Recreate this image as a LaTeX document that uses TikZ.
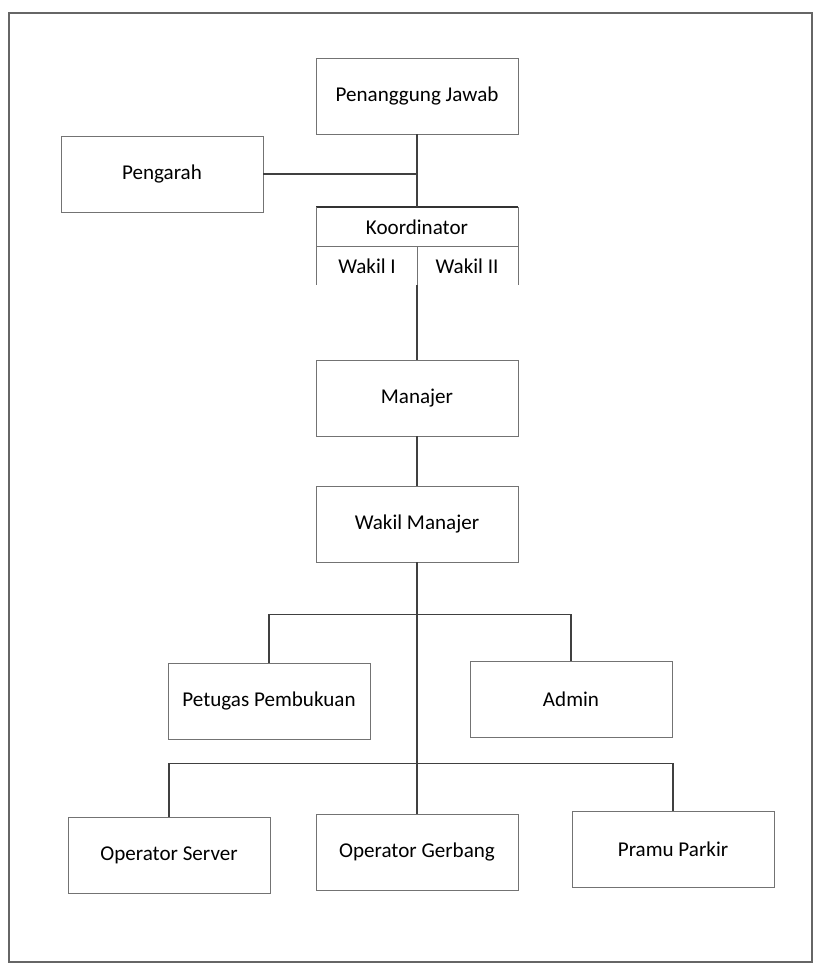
\documentclass[tikz,border=0pt]{standalone}
\usepackage{fontspec}
\setmainfont{Carlito}
\usetikzlibrary{positioning}

\tikzset{
	unitbox/.style={draw=black!55, line width=0.5pt, minimum width=4.04cm, minimum height=1.52cm, inner sep=0pt, font=\fontsize{12}{14}\selectfont},
	plain/.style={inner sep=0pt, font=\fontsize{12}{14}\selectfont},
	link/.style={line width=0.6pt, color=black!75}
}

\begin{document}
\begin{tikzpicture}[x=0.02cm, y=-0.02cm]
		%%%%% START %%%%%
		\useasboundingbox (0, 0) rectangle (815, 966);
		\draw[line width=0.6pt, color=black!60] (9, 13) rectangle (812, 962);
		
		\node[unitbox] (pj) at (417, 96) {Penanggung Jawab};
		\node[unitbox] (pengarah) at (162, 174) {Pengarah};
		
		%%%%% koordinator %%%%%
		\coordinate (koordtop) at (417, 207);
		\coordinate (koordbottom) at (417, 285);
		\draw[line width=0.6pt, color=black!80] (316, 207) -- (518, 207);
		\draw[line width=0.5pt, color=black!55] (316, 207) -- (316, 285);
		\draw[line width=0.5pt, color=black!55] (518, 207) -- (518, 285);
		\draw[line width=0.5pt, color=black!55] (316, 246) -- (518, 246);
		\draw[line width=0.5pt, color=black!55] (417, 246) -- (koordbottom);
		\node[plain] (koord) at (417, 227) {Koordinator};
		\node[plain] (wakil1) at (367, 266) {Wakil I};
		\node[plain] (wakil2) at (467, 266) {Wakil II};
		
		\node[unitbox] (manajer) at (417, 398) {Manajer};
		\node[unitbox] (wakilman) at (417, 524) {Wakil Manajer};
		
		\node[unitbox] (petugas) at (269, 701) {Petugas Pembukuan};
		\node[unitbox] (admin) at (571, 699) {Admin};
		
		\node[unitbox] (opserver) at (169, 855) {Operator Server};
		\node[unitbox] (opgerbang) at (417, 852) {Operator Gerbang};
		\node[unitbox] (pramu) at (673, 849) {Pramu Parkir};
		
		%%%%% links %%%%%
		\draw[link] (pj.south) -- (koordtop);
		\draw[link] (pengarah.east) -- (pengarah.east -| pj.south);
		\draw[link] (koordbottom) -- (manajer.north);
		\draw[link] (manajer.south) -- (wakilman.north);
		\draw[link] (wakilman.south) -- (opgerbang.north);
		\draw[link] (petugas.north) -- ++(0, -48) -| (admin.north);
		\draw[link] (opserver.north) -- ++(0, -53) -| (pramu.north);
		
		%%%%% END %%%%%
	\end{tikzpicture}
\end{document}
